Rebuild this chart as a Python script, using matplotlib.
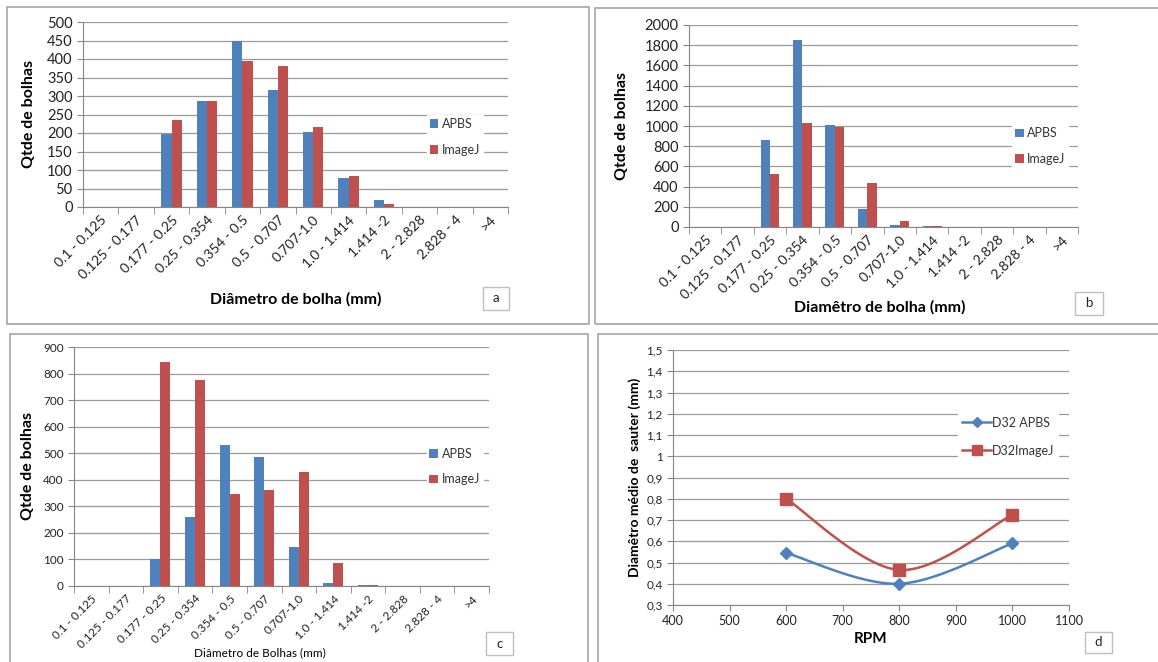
import matplotlib
matplotlib.use("Agg")
import matplotlib.pyplot as plt
import numpy as np
from matplotlib.patches import Rectangle
from matplotlib.lines import Line2D

plt.rcParams['font.family'] = ['Lato', 'DejaVu Sans']

W, H = 1158, 662

categories = ["0.1 - 0.125", "0.125 - 0.177", "0.177 - 0.25", "0.25 - 0.354", "0.354 - 0.5",
              "0.5 - 0.707", "0.707-1.0", "1.0 - 1.414", "1.414 -2", "2 - 2.828", "2.828 - 4", ">4"]

a_apbs = [0, 0, 198, 287, 450, 316, 203, 79, 19, 0, 0, 0]
a_imagej = [0, 0, 236, 287, 395, 381, 216, 83, 9, 0, 0, 0]
b_apbs = [0, 0, 865, 1855, 1005, 175, 20, 5, 0, 0, 0, 0]
b_imagej = [0, 0, 520, 1025, 995, 435, 55, 5, 0, 0, 0, 0]
c_apbs = [0, 0, 103, 258, 530, 485, 148, 10, 2, 0, 0, 0]
c_imagej = [0, 0, 845, 775, 348, 362, 428, 88, 5, 0, 0, 0]

rpm = [600, 800, 1000]
d32_apbs = [0.545, 0.40, 0.59]
d32_imagej = [0.80, 0.465, 0.725]
d_yticks = [0.3, 0.4, 0.5, 0.6, 0.7, 0.8, 0.9, 1.0, 1.1, 1.2, 1.3, 1.4, 1.5]
d_yticklabels = ["0,3", "0,4", "0,5", "0,6", "0,7", "0,8", "0,9", "1", "1,1", "1,2", "1,3", "1,4", "1,5"]
d_xticks = [400, 500, 600, 700, 800, 900, 1000, 1100]

BLUE = "#4F81BD"
RED = "#C0504D"
GRID = "#9A9A9A"
AX = "#868686"

fig = plt.figure(figsize=(W / 100, H / 100), dpi=100)
fig.patch.set_facecolor("white")


def px_axes(x0, y0, x1, y1):
    return fig.add_axes([x0 / W, 1 - y1 / H, (x1 - x0) / W, (y1 - y0) / H])


def border(x0, y0, x1, y1):
    fig.patches.append(Rectangle((x0 / W, 1 - y1 / H), (x1 - x0) / W, (y1 - y0) / H,
                                 transform=fig.transFigure, fill=False, edgecolor="#A6A6A6", lw=1.2))


def labelbox(x0, y0, x1, y1, txt, fs=9.5):
    fig.patches.append(Rectangle((x0 / W, 1 - y1 / H), (x1 - x0) / W, (y1 - y0) / H,
                                 transform=fig.transFigure, fill=True, facecolor="white",
                                 edgecolor="#BFBFBF", lw=1.0))
    fig.text((x0 + x1) / 2 / W, 1 - (y0 + y1) / 2 / H, txt, ha="center", va="center",
             fontsize=fs, color="#222222")


def style_axes(ax):
    for s in ["top", "right"]:
        ax.spines[s].set_visible(False)
    ax.spines["left"].set_color(AX)
    ax.spines["bottom"].set_color(AX)
    ax.yaxis.grid(True, color=GRID, lw=0.9)
    ax.set_axisbelow(True)
    ax.tick_params(axis="both", colors=AX, labelcolor="#222222")


def white_legend(leg):
    leg.get_frame().set_edgecolor("white")
    leg.get_frame().set_facecolor("white")
    leg.get_frame().set_alpha(1)
    for t in leg.get_texts():
        t.set_color("#333333")


def bar_panel(ax, apbs, imagej, ymax, ystep, xtick_fs, ytick_fs, ylab_fs, xlab, xlab_fs, xlab_bold,
              legend_pos, leg_fs):
    n = len(categories)
    x = np.arange(n)
    w = 0.29
    ax.bar(x - w / 2, apbs, w, color=BLUE, label="APBS", zorder=2)
    ax.bar(x + w / 2, imagej, w, color=RED, label="ImageJ", zorder=2)
    ax.set_xlim(-0.5, n - 0.5)
    ax.set_ylim(0, ymax)
    ax.set_yticks(np.arange(0, ymax + 1, ystep))
    ax.set_xticks(x)
    ax.set_xticklabels(categories, rotation=45, ha="right", rotation_mode="anchor", fontsize=xtick_fs)
    ax.set_xticks(np.arange(-0.5, n, 1), minor=True)
    ax.tick_params(axis="x", which="major", length=0, pad=5)
    ax.tick_params(axis="x", which="minor", length=5, color=AX)
    ax.tick_params(axis="y", labelsize=ytick_fs, length=4)
    style_axes(ax)
    ax.set_ylabel("Qtde de bolhas", fontsize=ylab_fs, fontweight="bold")
    ax.set_xlabel(xlab, fontsize=xlab_fs, fontweight="bold" if xlab_bold else "normal")
    leg = ax.legend(loc="center left", bbox_to_anchor=legend_pos, frameon=True, fontsize=leg_fs,
                    handlelength=0.7, handleheight=0.7, handletextpad=0.3, labelspacing=1.1,
                    borderpad=0.2, fancybox=False)
    white_legend(leg)
    return ax


# Panel a
border(7, 7, 589, 324)
axa = px_axes(83, 22, 508, 207)
bar_panel(axa, a_apbs, a_imagej, 500, 50, 10, 10.5, 11.5, "Diâmetro de bolha (mm)", 11.5, True,
          (0.795, 0.38), 9)
axa.xaxis.set_label_coords(0.5, -0.46)
axa.yaxis.set_label_coords(-0.11, 0.5)
labelbox(483, 287, 509, 310, "a")

# Panel b
border(595, 8, 1160, 324)
axb = px_axes(689, 25, 1078, 227)
bar_panel(axb, b_apbs, b_imagej, 2000, 200, 10, 10.5, 11.5, "Diamêtro de bolha (mm)", 11.5, True,
          (0.815, 0.40), 9)
axb.xaxis.set_label_coords(0.49, -0.36)
axb.yaxis.set_label_coords(-0.155, 0.5)
labelbox(1075, 292, 1103, 315, "b")

# Panel c
border(10, 334, 588, 665)
axc = px_axes(74, 347, 489, 586)
bar_panel(axc, c_apbs, c_imagej, 900, 100, 8.5, 8.5, 11.5, "Diâmetro de Bolhas (mm)", 8.5, False,
          (0.835, 0.50), 9)
axc.xaxis.set_label_coords(0.448, -0.255)
axc.yaxis.set_label_coords(-0.095, 0.5)
labelbox(486, 632, 513, 655, "c")

# Panel d
border(598, 334, 1160, 665)
axd = px_axes(673, 350, 1069, 605)
xmin, xmax, ymin, ymax = 400, 1100, 0.3, 1.5
axd.set_xlim(xmin, xmax)
axd.set_ylim(ymin, ymax)
axw, axh = 1069 - 673, 605 - 350


def smooth(xs, ys, n=40):
    sx = axw / (xmax - xmin)
    sy = axh / (ymax - ymin)
    P = np.column_stack([np.array(xs) * sx, np.array(ys) * sy])
    Pe = np.vstack([P[0], P, P[-1]])
    out = []
    for i in range(len(P) - 1):
        p0, p1, p2, p3 = Pe[i], Pe[i + 1], Pe[i + 2], Pe[i + 3]
        c1 = p1 + (p2 - p0) / 6
        c2 = p2 - (p3 - p1) / 6
        t = np.linspace(0, 1, n)[:, None]
        seg = (1 - t) ** 3 * p1 + 3 * (1 - t) ** 2 * t * c1 + 3 * (1 - t) * t ** 2 * c2 + t ** 3 * p2
        out.append(seg if i == 0 else seg[1:])
    out = np.vstack(out)
    return out[:, 0] / sx, out[:, 1] / sy


xs1, ys1 = smooth(rpm, d32_apbs)
xs2, ys2 = smooth(rpm, d32_imagej)
axd.plot(xs1, ys1, color=BLUE, lw=1.8, zorder=3)
axd.plot(rpm, d32_apbs, linestyle="none", marker="D", ms=6.5, color=BLUE, zorder=4)
axd.plot(xs2, ys2, color=RED, lw=1.8, zorder=3)
axd.plot(rpm, d32_imagej, linestyle="none", marker="s", ms=8.5, color=RED, zorder=4)
axd.set_yticks(d_yticks)
axd.set_yticklabels(d_yticklabels, fontsize=8.5)
axd.set_xticks(d_xticks)
axd.set_xticklabels([str(v) for v in d_xticks], fontsize=9)
style_axes(axd)
axd.tick_params(axis="both", length=4)
axd.set_ylabel("Diamêtro médio de  sauter (mm)", fontsize=10, fontweight="bold")
axd.set_xlabel("RPM", fontsize=11, fontweight="bold")
axd.xaxis.set_label_coords(0.5, -0.105)
axd.yaxis.set_label_coords(-0.08, 0.5)
handles = [Line2D([0], [0], color=BLUE, lw=1.8, marker="D", ms=5),
           Line2D([0], [0], color=RED, lw=1.8, marker="s", ms=7)]
legd = axd.legend(handles, ["D32 APBS", "D32ImageJ"], loc="center left", bbox_to_anchor=(0.705, 0.66),
                  fontsize=9, frameon=True, fancybox=False, handlelength=2.3, handletextpad=0.1,
                  labelspacing=1.3, borderpad=0.3)
white_legend(legd)
labelbox(1085, 632, 1112, 653, "d")

fig.savefig("out.png", dpi=100, facecolor="white")
